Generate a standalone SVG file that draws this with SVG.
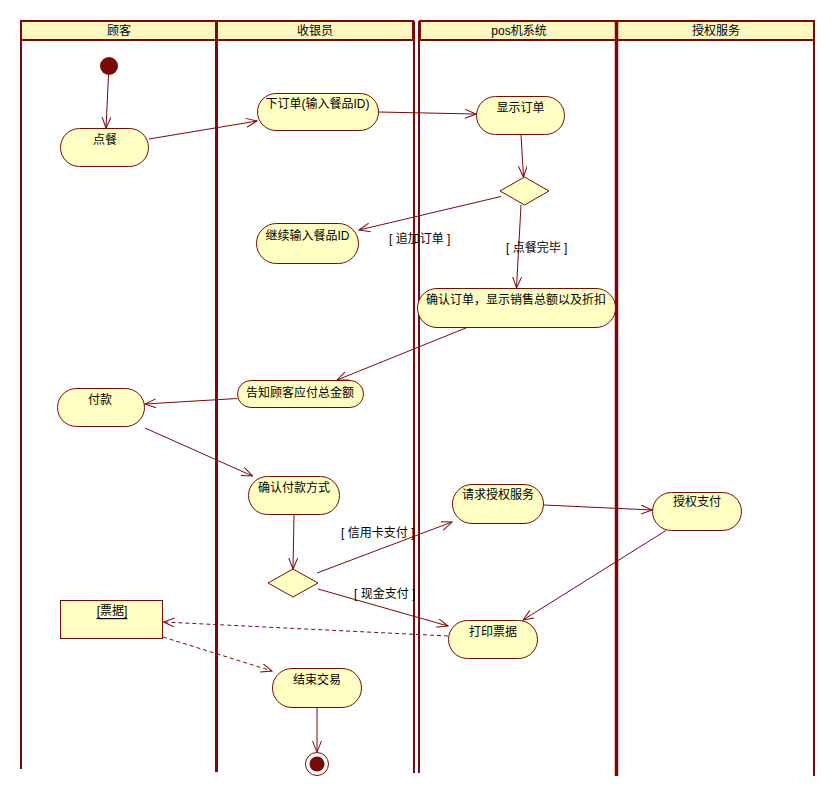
<svg xmlns="http://www.w3.org/2000/svg" width="835" height="797" viewBox="0 0 835 797">
<style>
  .lane { stroke: #7a0a0a; fill: none; }
  .hdr { fill: #fff8c2; stroke: #7a0a0a; stroke-width: 2; }
  .act { fill: #ffffc4; stroke: #7a0a0a; stroke-width: 1; }
  .t { font-family: "Liberation Sans", "Noto Sans CJK SC", sans-serif; font-size: 12px; fill: #000; text-anchor: middle; dominant-baseline: central; }
  .lbl { font-family: "Liberation Sans", "Noto Sans CJK SC", sans-serif; font-size: 12px; fill: #000; dominant-baseline: central; }
  .c { stroke: #7a0a0a; stroke-width: 1; fill: none; marker-end: url(#arr); }
  .d { stroke: #7a0a0a; stroke-width: 1; fill: none; stroke-dasharray: 4 3; marker-end: url(#arr); }
</style>
<defs>
  <marker id="arr" markerUnits="userSpaceOnUse" markerWidth="12" markerHeight="10" refX="11" refY="4.5" orient="auto">
    <path d="M0,0 L11,4.5 L0,9" fill="none" stroke="#7a0a0a" stroke-width="1"/>
  </marker>
</defs>
<rect width="835" height="797" fill="#fff"/>

<g id="swimlanes">
  <rect class="hdr" x="21" y="21" width="392" height="19"/>
  <rect class="hdr" x="420" y="21" width="394" height="19"/>
  <line class="lane" x1="21" y1="40" x2="21" y2="769" stroke-width="2"/>
  <line class="lane" x1="216.5" y1="21" x2="216.5" y2="772" stroke-width="3"/>
  <line class="lane" x1="414" y1="21" x2="414" y2="773" stroke-width="2"/>
  <line class="lane" x1="419" y1="21" x2="419" y2="773" stroke-width="2"/>
  <line class="lane" x1="616.5" y1="21" x2="616.5" y2="776" stroke-width="3.5"/>
  <line class="lane" x1="814" y1="21" x2="814" y2="776" stroke-width="2"/>
  <text class="t" x="119" y="30.5">顾客</text>
  <text class="t" x="315" y="30.5">收银员</text>
  <text class="t" x="519" y="30.5">pos机系统</text>
  <text class="t" x="716" y="30.5">授权服务</text>
</g>

<g id="start"><circle cx="109" cy="66" r="9" fill="#7a0a0a"/></g>
<g id="n_diancan"><rect class="act" x="60.5" y="128.5" width="88" height="38" rx="19"/><text class="t" x="105" y="140">点餐</text></g>
<g id="n_xiadingdan"><rect class="act" x="257.5" y="93.5" width="121" height="37" rx="18.5"/><text class="t" x="317.5" y="104">下订单(输入餐品ID)</text></g>
<g id="n_xianshi"><rect class="act" x="476.5" y="96.5" width="88" height="38" rx="19"/><text class="t" x="520.5" y="108">显示订单</text></g>
<g id="dec1"><polygon class="act" points="500,191 524.5,177 549,191 524.5,205"/></g>
<g id="n_jixu"><rect class="act" x="256.5" y="223.5" width="102" height="40" rx="20"/><text class="t" x="307.5" y="236">继续输入餐品ID</text></g>
<g id="n_queren"><rect class="act" x="417.5" y="288.5" width="198" height="39" rx="19.5"/><text class="t" x="516" y="300">确认订单，显示销售总额以及折扣</text></g>
<g id="n_gaozhi"><rect class="act" x="237.5" y="380.5" width="126" height="27" rx="13.5"/><text class="t" x="300" y="392.5">告知顾客应付总金额</text></g>
<g id="n_fukuan"><rect class="act" x="57.5" y="388.5" width="87" height="38" rx="19"/><text class="t" x="100" y="399.5">付款</text></g>
<g id="n_querenfk"><rect class="act" x="248.5" y="476.5" width="91" height="38" rx="19"/><text class="t" x="294" y="488">确认付款方式</text></g>
<g id="dec2"><polygon class="act" points="268,583 293,569 318,583 293,597"/></g>
<g id="n_qingqiu"><rect class="act" x="452.5" y="484.5" width="91" height="39" rx="19.5"/><text class="t" x="498" y="495">请求授权服务</text></g>
<g id="n_shouquan"><rect class="act" x="652.5" y="492.5" width="89" height="38" rx="19"/><text class="t" x="697" y="502">授权支付</text></g>
<g id="n_piaoju"><rect class="act" x="60.5" y="600.5" width="102" height="38"/><text class="t" x="112" y="611" text-decoration="underline">[票据]</text></g>
<g id="n_dayin"><rect class="act" x="448.5" y="620.5" width="89" height="38" rx="19"/><text class="t" x="493" y="632">打印票据</text></g>
<g id="n_jieshu"><rect class="act" x="272.5" y="668.5" width="89" height="39" rx="19.5"/><text class="t" x="317" y="680">结束交易</text></g>
<g id="end"><circle cx="317" cy="764" r="11.5" fill="#fff" stroke="#7a0a0a" stroke-width="1"/><circle cx="317" cy="764" r="7.5" fill="#7a0a0a"/></g>

<g id="connectors">
  <line class="c" x1="108.5" y1="75" x2="106" y2="128"/>
  <line class="c" x1="149" y1="139" x2="257" y2="121"/>
  <line class="c" x1="378" y1="112" x2="476" y2="114"/>
  <line class="c" x1="521" y1="134.5" x2="523.5" y2="177"/>
  <line class="c" x1="501" y1="196.5" x2="359" y2="230"/>
  <line class="c" x1="521" y1="205" x2="516.5" y2="288"/>
  <line class="c" x1="467" y1="327.5" x2="337" y2="380"/>
  <line class="c" x1="237" y1="398.5" x2="145" y2="404"/>
  <line class="c" x1="145" y1="428" x2="252.5" y2="476"/>
  <line class="c" x1="294" y1="514.5" x2="293" y2="569"/>
  <line class="c" x1="317" y1="573" x2="452" y2="522"/>
  <line class="c" x1="318" y1="589" x2="448" y2="626"/>
  <line class="c" x1="544" y1="505" x2="652" y2="510"/>
  <line class="c" x1="666" y1="530.5" x2="523" y2="620"/>
  <line class="d" x1="448" y1="636" x2="163.5" y2="622"/>
  <line class="d" x1="163" y1="637" x2="272" y2="671"/>
  <line class="c" x1="317" y1="707.5" x2="317" y2="752"/>
  <text class="lbl" x="389" y="238.5">[ 追加订单 ]</text>
  <text class="lbl" x="506" y="248">[ 点餐完毕 ]</text>
  <text class="lbl" x="341" y="533">[ 信用卡支付 ]</text>
  <text class="lbl" x="354" y="594">[ 现金支付 ]</text>
</g>
</svg>
